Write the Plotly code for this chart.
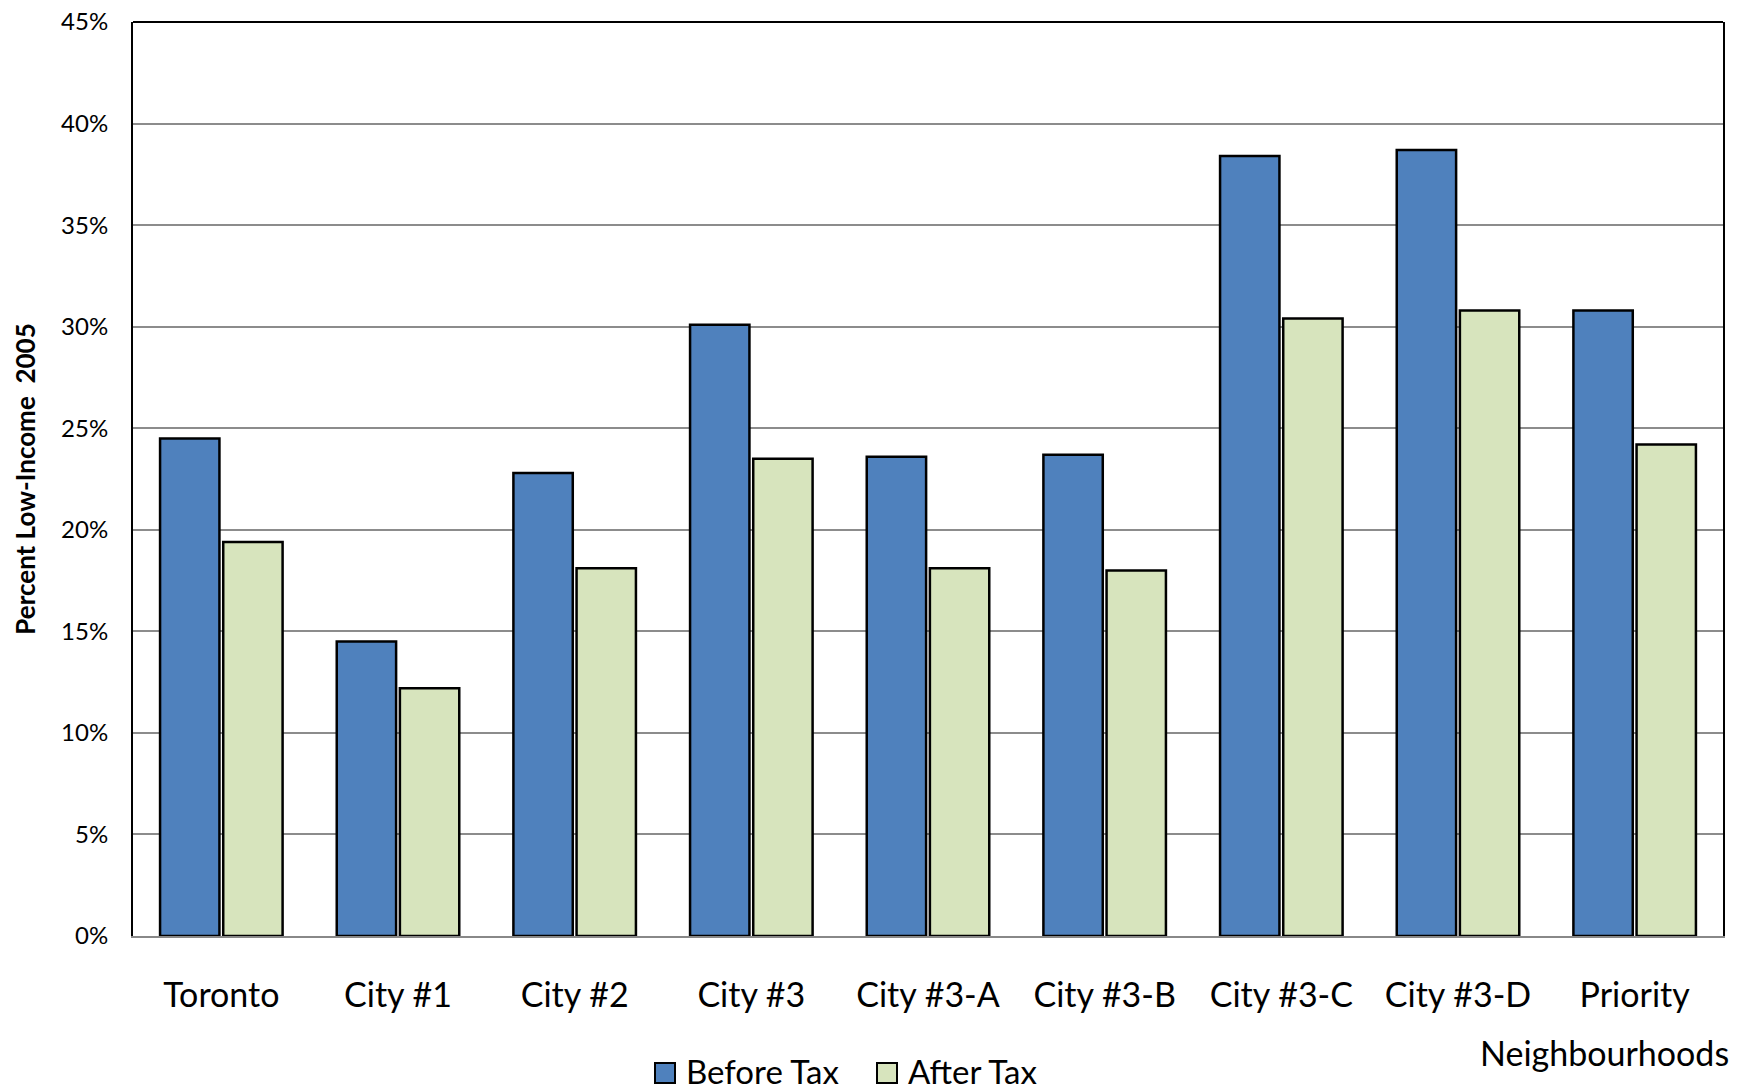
import plotly.graph_objects as go

# Low-income rates (percent) in 2005, before and after tax
categories = ["Toronto", "City #1", "City #2", "City #3", "City #3-A",
              "City #3-B", "City #3-C", "City #3-D", "Priority"]
before_tax = [24.5, 14.5, 22.8, 30.1, 23.6, 23.7, 38.4, 38.7, 30.8]
after_tax = [19.4, 12.2, 18.1, 23.5, 18.1, 18.0, 30.4, 30.8, 24.2]
y_ticks = [0, 5, 10, 15, 20, 25, 30, 35, 40, 45]
y_tick_labels = ["0%", "5%", "10%", "15%", "20%", "25%", "30%", "35%", "40%", "45%"]

BLUE = "#4F81BD"
GREEN = "#D7E4BD"
FONT = "Lato"

W, H = 1737, 1091
L, R, T, B = 133, 14, 22, 155
PW, PH = W - L - R, H - T - B


def px(x):
    return (x - L) / PW


def py(y):
    return (H - B - y) / PH


fig = go.Figure()
fig.add_trace(go.Bar(x=categories, y=before_tax, name="Before Tax",
                     marker=dict(color=BLUE, line=dict(color="black", width=2.5)),
                     showlegend=False))
fig.add_trace(go.Bar(x=categories, y=after_tax, name="After Tax",
                     marker=dict(color=GREEN, line=dict(color="black", width=2.5)),
                     showlegend=False))

# Legend drawn as swatches + labels below the axis
legend_items = [("Before Tax", BLUE, 655), ("After Tax", GREEN, 877)]
for label, color, x0 in legend_items:
    fig.add_shape(type="rect", xref="paper", yref="paper",
                  x0=px(x0), x1=px(x0 + 20), y0=py(1083), y1=py(1063),
                  fillcolor=color, line=dict(color="black", width=2))
    fig.add_annotation(text=label, xref="paper", yref="paper",
                       x=px(x0 + 29), y=py(1071), xanchor="left", yanchor="middle",
                       showarrow=False, font=dict(family=FONT, size=33, color="black"))

# Second line of the last category label
fig.add_annotation(text="Neighbourhoods", xref="paper", yref="paper",
                   x=px(1731), y=py(1052), xanchor="right", yanchor="middle",
                   showarrow=False, font=dict(family=FONT, size=34, color="black"))

# Top frame edge
fig.add_shape(type="line", xref="paper", yref="paper", x0=0, x1=1, y0=1, y1=1,
              line=dict(color="black", width=2))

fig.update_layout(
    width=W, height=H,
    margin=dict(l=L, r=R, t=T, b=B, autoexpand=False),
    paper_bgcolor="white", plot_bgcolor="white",
    barmode="group", bargap=0.285, bargroupgap=0.06,
    font=dict(family=FONT, color="black"),
    xaxis=dict(showgrid=False, showline=True, linecolor="#888888", linewidth=2,
               ticks="", tickfont=dict(family=FONT, size=34),
               ticklabelstandoff=28, tickangle=0),
    yaxis=dict(range=[0, 45], tickvals=y_ticks, ticktext=y_tick_labels,
               showgrid=True, gridcolor="#8c8c8c", gridwidth=1.5,
               showline=True, linecolor="black", linewidth=2, mirror=True,
               zeroline=False, ticks="", ticklabelstandoff=18,
               tickfont=dict(family=FONT, size=24),
               title=dict(text="Percent Low-Income\u00a0 2005",
                          font=dict(family=FONT, size=26, weight="bold"),
                          standoff=18)),
)

fig.write_html("out.html")
